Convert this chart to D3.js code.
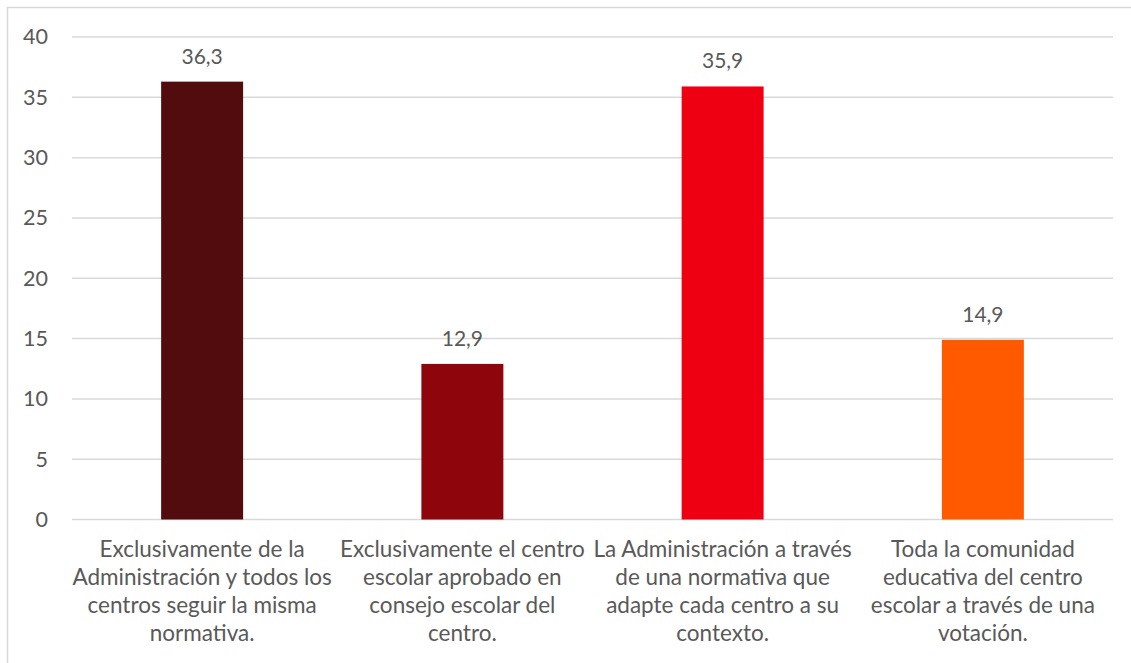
<!DOCTYPE html>
<html>
<head>
<meta charset="utf-8">
<script src="https://cdn.jsdelivr.net/npm/d3@7"></script>
<style>
  html, body { margin: 0; padding: 0; background: #fff; }
  svg { display: block; }
  text { font-family: Lato, "Open Sans", sans-serif; fill: #595959; }
</style>
</head>
<body>
<svg id="chart" width="1131" height="663"></svg>
<script>
const categories = [
  ["Exclusivamente de la", "Administración y todos los", "centros seguir la misma", "normativa."],
  ["Exclusivamente el centro", "escolar aprobado en", "consejo escolar del", "centro."],
  ["La Administración a través", "de una normativa que", "adapte cada centro a su", "contexto."],
  ["Toda la comunidad", "educativa del centro", "escolar a través de una", "votación."]
];
const values = [36.3, 12.9, 35.9, 14.9];
const valueLabels = ["36,3", "12,9", "35,9", "14,9"];
const barColors = ["#520C0D", "#8E050C", "#EE0012", "#FF5A00"];
const yTicks = [0, 5, 10, 15, 20, 25, 30, 35, 40];

const svg = d3.select("#chart");
const W = 1131, H = 663;
const margin = { left: 72, right: W - 1113, top: 37, bottom: H - 519.5 };

// outer border
svg.append("rect")
  .attr("x", 7.5).attr("y", 7.5)
  .attr("width", W + 20).attr("height", H + 20)
  .attr("fill", "none").attr("stroke", "#D9D9D9").attr("stroke-width", 1.5);

const x = d3.scaleBand()
  .domain(d3.range(categories.length))
  .range([margin.left, W - margin.right])
  .paddingInner(0.685).paddingOuter(0.3425);

const y = d3.scaleLinear().domain([0, 40]).range([H - margin.bottom, margin.top]);

// gridlines
svg.append("g").selectAll("line").data(yTicks).join("line")
  .attr("x1", margin.left).attr("x2", W - margin.right)
  .attr("y1", d => y(d)).attr("y2", d => y(d))
  .attr("stroke", "#D9D9D9").attr("stroke-width", 1.5);

// y axis labels
const yAxis = d3.axisLeft(y).tickValues(yTicks).tickSize(0).tickPadding(24);
const gy = svg.append("g").attr("transform", `translate(${margin.left},0)`).call(yAxis);
gy.select(".domain").remove();
gy.selectAll("text")
  .attr("font-size", 21.5).attr("fill", "#595959")
  .style("font-family", "Lato, 'Open Sans', sans-serif");

// bars
svg.append("g").selectAll("rect").data(values).join("rect")
  .attr("x", (d, i) => x(i))
  .attr("width", x.bandwidth())
  .attr("y", d => y(d))
  .attr("height", d => y(0) - y(d))
  .attr("fill", (d, i) => barColors[i]);

// value labels
svg.append("g").selectAll("text").data(values).join("text")
  .attr("x", (d, i) => x(i) + x.bandwidth() / 2)
  .attr("y", d => y(d) - 18)
  .attr("text-anchor", "middle")
  .attr("font-size", 21)
  .attr("fill", "#404040")
  .text((d, i) => valueLabels[i]);

// category labels
const cat = svg.append("g").selectAll("text").data(categories).join("text")
  .attr("text-anchor", "middle")
  .attr("font-size", 22.5);
cat.each(function(lines, i) {
  const t = d3.select(this);
  lines.forEach((ln, j) => {
    t.append("tspan")
      .attr("x", x(i) + x.bandwidth() / 2)
      .attr("y", 557 + j * 28)
      .text(ln);
  });
});
</script>
</body>
</html>
